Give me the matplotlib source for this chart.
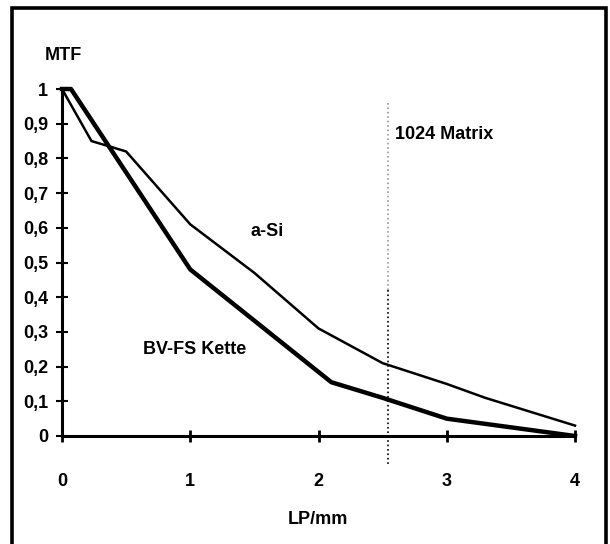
import numpy as np
from matplotlib import pyplot as plt
from matplotlib.patches import Rectangle

# MTF curves
lp_asi = [0, 0.23, 0.5, 1.0, 1.5, 2.0, 2.5, 3.0, 3.3, 4.0]
mtf_asi = [1.0, 0.85, 0.82, 0.61, 0.47, 0.31, 0.21, 0.15, 0.11, 0.03]

lp_bv = [0, 0.07, 1.0, 2.1, 2.5, 3.0, 4.0]
mtf_bv = [1.0, 1.0, 0.48, 0.155, 0.11, 0.05, 0.0]

matrix_lp = 2.54
x_ticks = [0, 1, 2, 3, 4]
y_ticks = [0, 0.1, 0.2, 0.3, 0.4, 0.5, 0.6, 0.7, 0.8, 0.9, 1]
y_labels = ['0', '0,1', '0,2', '0,3', '0,4', '0,5', '0,6', '0,7', '0,8', '0,9', '1']

plt.rcParams['font.family'] = ['Liberation Sans Narrow', 'Liberation Sans', 'DejaVu Sans']
plt.rcParams['font.weight'] = 'bold'

fig = plt.figure(figsize=(6.1, 5.44), dpi=100)
fig.patches.append(Rectangle((12/610, -0.01), 594/610, 1 - 8/544 + 0.01,
                             transform=fig.transFigure, fill=False,
                             edgecolor='black', linewidth=2.6))

ax = fig.add_axes([62/610, (544-436)/544, 513/610, 347/544])
ax.plot(lp_asi, mtf_asi, color='black', linewidth=1.8, clip_on=False)
ax.plot(lp_bv, mtf_bv, color='black', linewidth=3.2, clip_on=False)

# 1024 matrix limit
ax.plot([matrix_lp, matrix_lp], [0.96, 0.42], color='0.6', linestyle=':', linewidth=1.2, clip_on=False)
ax.plot([matrix_lp, matrix_lp], [0.42, -0.085], color='black', linestyle=':', linewidth=1.2, clip_on=False)

ax.text(2.6, 0.87, '1024 Matrix', fontsize=13, fontweight='bold', ha='left', va='center')
ax.text(1.6, 0.59, 'a-Si', fontsize=13, fontweight='bold', ha='center', va='center')
ax.text(0.63, 0.25, 'BV-FS Kette', fontsize=13, fontweight='bold', ha='left', va='center')

ax.set_xlim(0, 4)
ax.set_ylim(0, 1)
for s in ['top', 'right']:
    ax.spines[s].set_visible(False)
for s in ['left', 'bottom']:
    ax.spines[s].set_linewidth(2.2)

ax.set_xticks(x_ticks)
ax.set_xticklabels([str(i) for i in x_ticks])
ax.set_yticks(y_ticks)
ax.set_yticklabels(y_labels)
ax.tick_params(axis='x', direction='inout', length=9, width=2, pad=22, labelsize=13)
ax.tick_params(axis='y', direction='inout', length=8, width=1.5, pad=6, labelsize=13)
for lab in ax.get_xticklabels() + ax.get_yticklabels():
    lab.set_fontweight('bold')

fig.text(45/610, 1 - 55/544, 'MTF', fontsize=13, fontweight='bold', ha='left', va='center')
fig.text(318/610, 1 - 520/544, 'LP/mm', fontsize=13, fontweight='bold', ha='center', va='center')

fig.savefig('out.png', dpi=100)
